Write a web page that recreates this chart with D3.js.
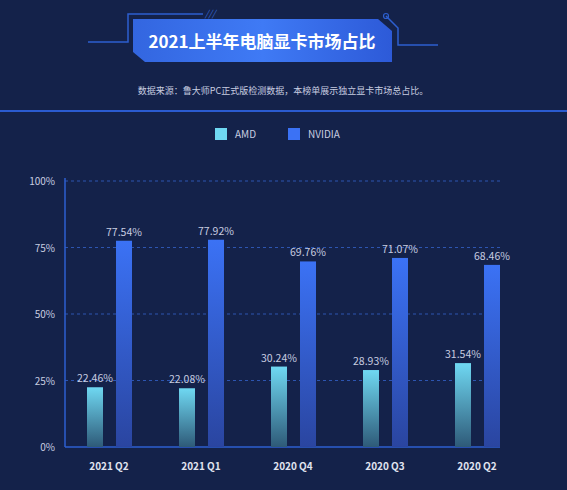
<!DOCTYPE html><html><head><meta charset="utf-8"><script src="https://cdn.jsdelivr.net/npm/d3@7"></script>
<style>body{margin:0;background:#14224a;}svg{display:block;font-family:"Noto Sans CJK SC","Noto Sans",sans-serif}</style></head><body><svg id="c" width="567" height="490"></svg>
<script>
const categories=["2021 Q2","2021 Q1","2020 Q4","2020 Q3","2020 Q2"];
const amd=[22.46,22.08,30.24,28.93,31.54];
const nvidia=[77.54,77.92,69.76,71.07,68.46];
const yTicks=[0,25,50,75,100];
const svg=d3.select("#c");
svg.append("rect").attr("width",567).attr("height",490).attr("fill","#14224a");
const defs=svg.append("defs");
const g1=defs.append("linearGradient").attr("id","ga").attr("x1",0).attr("x2",0).attr("y1",0).attr("y2",1);
g1.append("stop").attr("offset",0).attr("stop-color","#6fd8f2");g1.append("stop").attr("offset",1).attr("stop-color","#2e5a78");
const g2=defs.append("linearGradient").attr("id","gn").attr("x1",0).attr("x2",0).attr("y1",0).attr("y2",1);
g2.append("stop").attr("offset",0).attr("stop-color","#3b72f5");g2.append("stop").attr("offset",1).attr("stop-color","#2a45a0");
const g3=defs.append("linearGradient").attr("id","gt");
g3.append("stop").attr("offset",0).attr("stop-color","#3366e0");g3.append("stop").attr("offset",0.5).attr("stop-color","#3f7af5");g3.append("stop").attr("offset",1).attr("stop-color","#2d5ad8");
const dc="#2d5fd0";
svg.append("path").attr("d","M88,42 H128 V14 H203").attr("fill","none").attr("stroke",dc).attr("stroke-width",1.5);
svg.append("path").attr("d","M386,16 L398,28 V45 H438").attr("fill","none").attr("stroke",dc).attr("stroke-width",1.5);
svg.append("circle").attr("cx",386).attr("cy",16).attr("r",2.5).attr("fill","none").attr("stroke",dc).attr("stroke-width",1.2);
svg.append("text").attr("x",205).attr("y",17).attr("fill","#3a6ad8").attr("font-size",9).attr("font-style","italic").text("///");
svg.append("path").attr("d","M133,19 H378 L392,31 V62 H145 L133,52 Z").attr("fill","url(#gt)");
svg.append("text").attr("x",262).attr("y",48).attr("text-anchor","middle").attr("fill","#fff").attr("font-size",17).attr("font-weight","bold").text("2021上半年电脑显卡市场占比");
svg.append("text").attr("x",283).attr("y",94).attr("text-anchor","middle").attr("fill","#c8cde0").attr("font-size",9).text("数据来源：鲁大师PC正式版检测数据，本榜单展示独立显卡市场总占比。");
svg.append("rect").attr("x",0).attr("y",110).attr("width",567).attr("height",2).attr("fill","#2b5bd0");
svg.append("rect").attr("x",215).attr("y",128).attr("width",12).attr("height",12).attr("fill","#6fd8f2");
svg.append("text").attr("x",235).attr("y",138).attr("fill","#c8cde0").attr("font-size",10).text("AMD");
svg.append("rect").attr("x",288).attr("y",128).attr("width",12).attr("height",12).attr("fill","#3b72f5");
svg.append("text").attr("x",308).attr("y",138).attr("fill","#c8cde0").attr("font-size",10).text("NVIDIA");
const x=d3.scaleBand().domain(categories).range([63,523]);
const y=d3.scaleLinear().domain([0,100]).range([447,181]);
const gr=svg.append("g");
yTicks.forEach(t=>{
  if(t>0) gr.append("line").attr("x1",65).attr("x2",500).attr("y1",y(t)).attr("y2",y(t)).attr("stroke","#2d55b0").attr("stroke-dasharray","3,3");
  gr.append("text").attr("x",55).attr("y",y(t)+4).attr("text-anchor","end").attr("fill","#c8cde0").attr("font-size",10).text(t+"%");
});
svg.append("line").attr("x1",65).attr("x2",65).attr("y1",178).attr("y2",447).attr("stroke","#2d5fd0").attr("stroke-width",1.5);
svg.append("line").attr("x1",65).attr("x2",500).attr("y1",447).attr("y2",447).attr("stroke","#2d5fd0").attr("stroke-width",1.5);
const bw=16;
categories.forEach((c,i)=>{
  const cx=x(c)+x.bandwidth()/2;
  [[amd[i],"url(#ga)",cx-22],[nvidia[i],"url(#gn)",cx+7]].forEach(([v,f,bx])=>{
    svg.append("rect").attr("x",bx).attr("y",y(v)).attr("width",bw).attr("height",447-y(v)).attr("fill",f);
    svg.append("text").attr("x",bx+bw/2).attr("y",y(v)-5).attr("text-anchor","middle").attr("fill","#c8cde0").attr("font-size",10.5).text(v.toFixed(2)+"%");
  });
  svg.append("text").attr("x",cx).attr("y",470).attr("text-anchor","middle").attr("fill","#e0e4f0").attr("font-size",10).attr("font-weight","bold").text(c);
});
</script></body></html>
